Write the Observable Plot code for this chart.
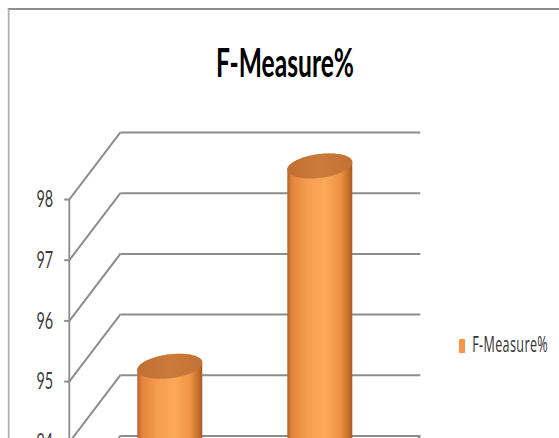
<!DOCTYPE html>
<html>
<head>
<meta charset="utf-8">
<script src="https://cdn.jsdelivr.net/npm/d3@7"></script>
<script src="https://cdn.jsdelivr.net/npm/@observablehq/plot@0.6"></script>
<style>
  html, body { margin: 0; padding: 0; background: #fff; overflow: hidden; }
  /* the whole chart is laid out wide, then narrowed horizontally */
  #chart { position: relative; width: 932px; height: 438px; transform: scaleX(0.6); transform-origin: 0 0; }
  .frame { position: absolute; left: 13px; top: 8px; width: 1000px; height: 520px;
           border-top: 2px solid #8e8e8e; border-left: 3px solid #b0b0b0; }
  .title { position: absolute; left: 0; top: 40.6px; width: 950px; text-align: center;
           font: 700 41px/1 Lato, sans-serif; color: #000; }
  #plot { position: absolute; left: 0; top: 100px; }
  .swatch { position: absolute; left: 765px; top: 339px; width: 10px; height: 14px; background: #f79646; }
  .legend-label { position: absolute; left: 787px; top: 334px; font: 400 21px/1 "Open Sans", sans-serif;
                  letter-spacing: 0.6px; color: #333; white-space: nowrap; }
</style>
</head>
<body>
<div id="chart">
  <div class="frame"></div>
  <div class="title" id="title"></div>
  <div id="plot"></div>
  <div class="swatch"></div>
  <div class="legend-label" id="legend"></div>
</div>
<script>
// Series data
const seriesName = "F-Measure%";
const categories = ["Method 1", "Method 2"];
const fMeasure = [94.7, 98.0];
const yTicks = [93, 94, 95, 96, 97, 98];

// 3-D look: offset of the back wall in scale units, and cylinder proportions
const yFloor = 93, yTop = 98;
const depthX = 0.34;     // x units
const depthY = 1.104;    // value units
const radiusX = 0.207;   // cylinder radius across, x units
const radiusD = 0.187;   // cylinder radius in depth, fraction of wall depth
const grid = "#8c8c8c";

document.getElementById("title").textContent = seriesName;
document.getElementById("legend").textContent = seriesName;

// Outline of a cylinder cross-section at value v, centred in depth
function ring(cx, v) {
  const n = 120;
  return d3.range(n).map(k => {
    const t = (k / n) * 2 * Math.PI;
    const d = 0.5 + radiusD * Math.sin(t);
    return [cx + radiusX * Math.cos(t) + d * depthX, v + d * depthY];
  });
}

const bodies = categories.flatMap((cat, i) => {
  const cx = i + 0.5;
  const hull = d3.polygonHull([...ring(cx, yFloor), ...ring(cx, fMeasure[i])]);
  return hull.map(([x, y]) => ({cat, x, y}));
});
const tops = categories.flatMap((cat, i) =>
  ring(i + 0.5, fMeasure[i]).map(([x, y]) => ({cat, x, y})));

function gradientDefs() {
  const defs = d3.create("svg:defs");
  const body = defs.append("linearGradient").attr("id", "cylBody")
    .attr("x1", 0).attr("x2", 1).attr("y1", 0).attr("y2", 0);
  [[0, "#b4622a"], [0.07, "#e3843b"], [0.3, "#f59c4f"], [0.58, "#fca95b"],
   [0.82, "#ee9244"], [0.95, "#c06b2b"], [1, "#a65a22"]]
    .forEach(([o, c]) => body.append("stop").attr("offset", o).attr("stop-color", c));
  const top = defs.append("linearGradient").attr("id", "cylTop")
    .attr("x1", 0).attr("x2", 1).attr("y1", 0).attr("y2", 0);
  [[0, "#c06f31"], [0.5, "#ca7a3a"], [1, "#c27234"]]
    .forEach(([o, c]) => top.append("stop").attr("offset", o).attr("stop-color", c));
  return defs.node();
}

const n = categories.length;
const chart = Plot.plot({
  width: 760,
  height: 420,
  marginLeft: 115,
  marginRight: 145,
  marginTop: 99,
  marginBottom: 17.5,
  x: {type: "linear", domain: [0, n], axis: null},
  y: {domain: [yFloor, yTop], axis: null},
  style: {background: "transparent", fontFamily: "Lato, sans-serif", overflow: "visible"},
  marks: [
    gradientDefs,
    // back wall gridlines
    Plot.link(yTicks, {x1: () => depthX, x2: () => n + depthX, y1: d => d + depthY, y2: d => d + depthY,
                       stroke: grid, strokeWidth: 2}),
    // side wall gridlines
    Plot.link(yTicks, {x1: () => 0, x2: () => depthX, y1: d => d, y2: d => d + depthY,
                       stroke: grid, strokeWidth: 2.6}),
    // floor edge on the right
    Plot.link([yFloor], {x1: () => n, x2: () => n + depthX, y1: d => d, y2: d => d + depthY,
                         stroke: grid, strokeWidth: 2.6}),
    // front value axis
    Plot.ruleX([0], {y1: () => yFloor, y2: () => yTop, stroke: grid, strokeWidth: 3}),
    Plot.axisY({ticks: yTicks, tickFormat: d3.format("d"), anchor: "left", tickSize: 8, tickPadding: 19,
                fontSize: 24, stroke: grid, strokeWidth: 2, fill: "#3a3a3a", label: null}),
    // cylinders
    Plot.line(bodies, {x: "x", y: "y", z: "cat", curve: "linear-closed", fill: "url(#cylBody)", stroke: "none"}),
    Plot.line(tops, {x: "x", y: "y", z: "cat", curve: "linear-closed", fill: "url(#cylTop)", stroke: "none"})
  ]
});
document.getElementById("plot").append(chart);
</script>
</body>
</html>
